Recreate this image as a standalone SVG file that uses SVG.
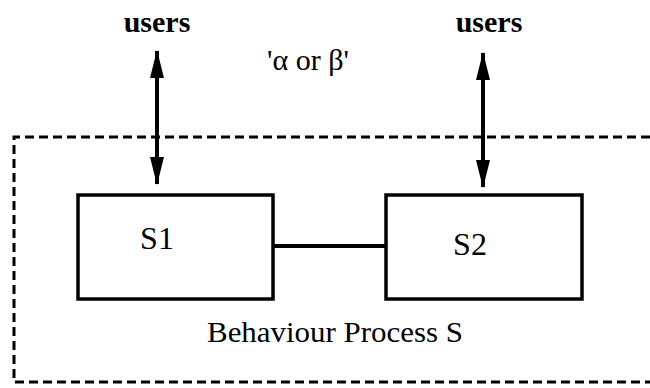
<svg xmlns="http://www.w3.org/2000/svg" width="650" height="388" viewBox="0 0 650 388">
  <style>
    .box { fill: #fff; stroke: #000; stroke-width: 3.5; }
    .lbl { font-family: "Liberation Serif", serif; fill: #000; text-anchor: middle; }
    .user { font-family: "Liberation Serif", serif; font-weight: bold; font-size: 30px; fill: #000; text-anchor: middle; }
    .link { stroke: #000; stroke-width: 4; fill: none; }
    .bound { stroke: #000; stroke-width: 3; fill: none; stroke-dasharray: 9 5; }
  </style>
  <defs>
    <marker id="head" markerUnits="userSpaceOnUse" markerWidth="28" markerHeight="14" viewBox="0 0 28 14" refX="27" refY="7" orient="auto-start-reverse">
      <path d="M0,0 L28,7 L0,14 Z" fill="#000"/>
    </marker>
  </defs>

  <!-- process boundary: open on the right -->
  <g id="boundary">
    <path class="bound" d="M650,137 L14,137 L14,382 L650,382"/>
    <text class="lbl" x="335" y="342" font-size="29" textLength="256" lengthAdjust="spacingAndGlyphs">Behaviour Process S</text>
  </g>

  <g id="user1">
    <text class="user" x="157" y="32">users</text>
  </g>
  <g id="user2">
    <text class="user" x="489" y="32">users</text>
  </g>

  <g id="condition">
    <text class="lbl" x="308" y="70" font-size="30">'α or β'</text>
  </g>

  <g id="S1">
    <rect class="box" x="78" y="195" width="195" height="104"/>
    <text class="lbl" x="157" y="249" font-size="32">S1</text>
  </g>
  <g id="S2">
    <rect class="box" x="386" y="195" width="196" height="104"/>
    <text class="lbl" x="470" y="255" font-size="32">S2</text>
  </g>

  <g id="connectors">
    <line class="link" x1="157" y1="51" x2="157" y2="184" marker-start="url(#head)" marker-end="url(#head)"/>
    <line class="link" x1="483" y1="53" x2="483" y2="187" marker-start="url(#head)" marker-end="url(#head)"/>
    <line class="link" x1="273" y1="246" x2="386" y2="246"/>
  </g>
</svg>
